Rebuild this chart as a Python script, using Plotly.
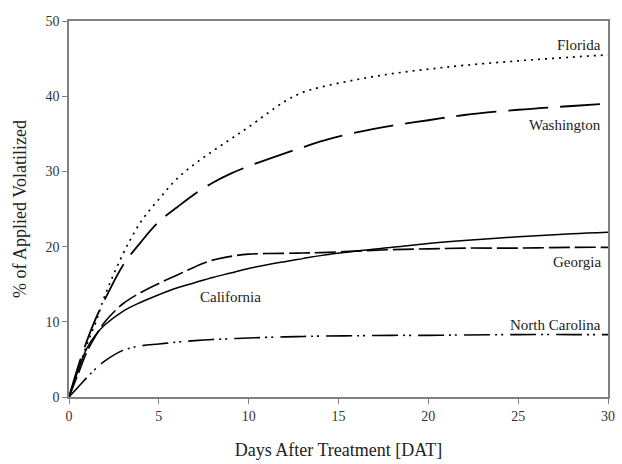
import plotly.graph_objects as go

days = [0, 0.5, 1, 1.5, 2, 3, 4, 5, 6, 7, 8, 9, 10, 12, 13, 14, 16, 18, 20, 22, 25, 28, 30]
florida = [0, 3.5, 7, 10, 13.5, 19.0, 23.3, 26.3, 29.0, 31.0, 32.7, 34.3, 35.9, 39.3, 40.5, 41.2, 42.2, 43.0, 43.6, 44.1, 44.7, 45.2, 45.5]
washington = [0, 4, 7.5, 10.5, 13, 17.5, 20.6, 23.3, 25.2, 27, 28.5, 29.7, 30.7, 32.4, 33.2, 34.0, 35.2, 36.1, 36.8, 37.5, 38.2, 38.7, 39]
georgia = [0, 3, 6, 8.2, 10, 12.4, 13.9, 15.1, 16.2, 17.3, 18.2, 18.7, 19.0, 19.1, 19.15, 19.2, 19.4, 19.6, 19.7, 19.8, 19.8, 19.9, 19.9]
california = [0, 3.5, 6.5, 8.3, 9.6, 11.4, 12.6, 13.6, 14.5, 15.2, 15.9, 16.5, 17.1, 18.0, 18.4, 18.8, 19.4, 19.9, 20.4, 20.8, 21.3, 21.7, 21.9]
north_carolina = [0, 1.3, 2.6, 3.8, 4.8, 6.2, 6.8, 7.05, 7.3, 7.5, 7.65, 7.75, 7.85, 8.0, 8.05, 8.1, 8.15, 8.2, 8.2, 8.25, 8.3, 8.3, 8.3]

labels = ["Florida", "Washington", "Georgia", "California", "North Carolina"]
label_x = [29.7, 29.7, 29.7, 9.0, 29.7]
label_y = [46.8, 36.2, 17.9, 13.3, 9.6]
label_anchor = ["right", "right", "right", "center", "right"]

series = [florida, washington, georgia, california, north_carolina]
dashes = ["2px,5px", "40px,12px", "21px,5px", "solid", "26px,5px,2px,4px,2px,7px"]
widths = [1.7, 1.8, 1.6, 1.5, 1.6]

fig = go.Figure()
for name, ys, d, w in zip(labels, series, dashes, widths):
    fig.add_trace(go.Scatter(x=days, y=ys, mode="lines", name=name,
                             line=dict(color="black", width=w, dash=d, shape="spline"),
                             showlegend=False))

for t, x, y, a in zip(labels, label_x, label_y, label_anchor):
    fig.add_annotation(x=x, y=y, text=t, showarrow=False, xanchor=a, yanchor="middle",
                       font=dict(family="Liberation Serif", size=15, color="#222"))

axis_common = dict(showline=True, linecolor="#808080", linewidth=1.5, mirror=True,
                   ticks="outside", ticklen=5, tickcolor="#808080", tickwidth=1.2,
                   showgrid=False, zeroline=False, ticklabeloverflow="allow",
                   tickfont=dict(family="Liberation Serif", size=14, color="#333"))

fig.update_xaxes(range=[0, 30], tickvals=[0, 5, 10, 15, 20, 25, 30],
                 title=dict(text="Days After Treatment [DAT]", standoff=21,
                            font=dict(family="Liberation Serif", size=18, color="#222")),
                 **axis_common)
fig.update_yaxes(range=[0, 50], tickvals=[0, 10, 20, 30, 40, 50],
                 title=dict(text="% of Applied Volatilized", standoff=14,
                            font=dict(family="Liberation Serif", size=18, color="#222")),
                 **axis_common)

fig.update_layout(width=622, height=464, margin=dict(l=69, r=7, t=21, b=63),
                  plot_bgcolor="white", paper_bgcolor="white")

fig.write_html("out.html", config={"displayModeBar": False},
               post_script="document.body.style.margin='0px';")
